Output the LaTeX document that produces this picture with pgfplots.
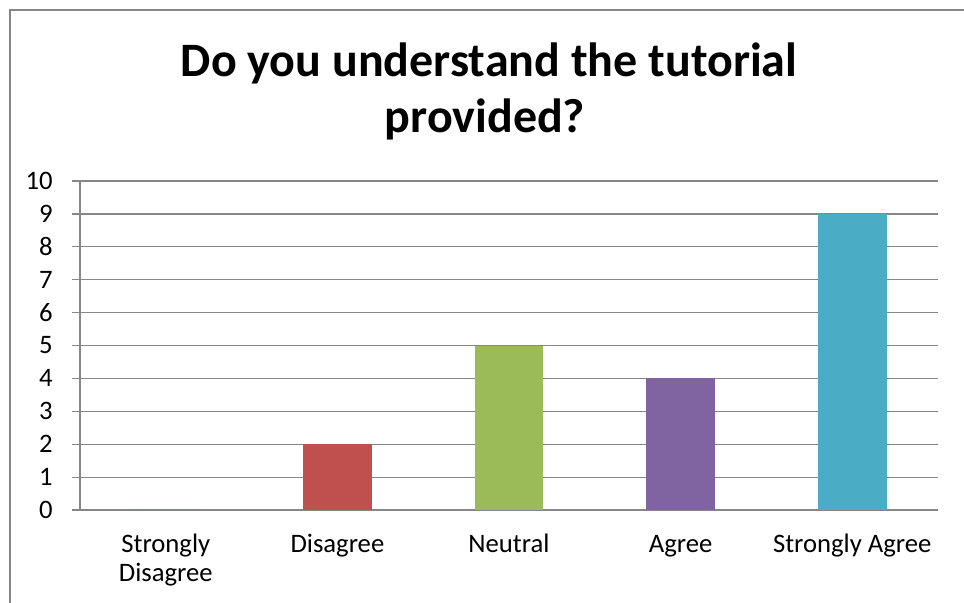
\documentclass[border=0pt]{standalone}
\usepackage{pgfplots}
\pgfplotsset{compat=1.18}
\usepackage{fontspec}
\setmainfont{Carlito}
\definecolor{cRed}{HTML}{C0504D}
\definecolor{cGreen}{HTML}{9BBB59}
\definecolor{cPurple}{HTML}{8064A2}
\definecolor{cTeal}{HTML}{4BACC6}
\definecolor{cBlue}{HTML}{4F81BD}
\definecolor{cGrid}{HTML}{868686}
\begin{document}
\begin{tikzpicture}
\useasboundingbox (0pt,0pt) rectangle (723pt,-452.25pt);
\draw[cGrid, line width=1.2pt] (7.5pt,-460pt) -- (7.5pt,-7.5pt) -- (730pt,-7.5pt);
\node[anchor=base, font=\fontsize{36}{40}\selectfont\bfseries, inner sep=0pt] at (366.75pt,-57pt) {Do you understand the tutorial};
\node[anchor=base, font=\fontsize{36}{40}\selectfont\bfseries, inner sep=0pt] at (363.75pt,-99pt) {provided?};
\begin{axis}[
  at={(60pt,-382.5pt)}, anchor=south west,
  scale only axis, width=643.5pt, height=246.75pt,
  xmin=-0.5, xmax=4.5, ymin=0, ymax=10,
  ytick={0,...,10},
  ymajorgrids, grid style={cGrid, line width=0.9pt},
  axis x line*=bottom, axis y line*=left,
  axis line style={-, cGrid, line width=0.9pt},
  tick style={cGrid, line width=0.9pt},
  tick align=outside,
  major tick length=6pt,
  xtick={0,...,4},
  xticklabels={{\strut Strongly\\Disagree},\strut Disagree,\strut Neutral,\strut Agree,{\strut Strongly Agree}},
  x tick style={draw=none},
  minor xtick={-0.5,0.5,...,4.5},
  minor tick length=6pt,
  xticklabel style={align=center, font=\fontsize{20}{22}\selectfont, yshift=-7pt},
  yticklabel style={font=\fontsize{20}{22}\selectfont, xshift=-11pt},
  /pgf/number format/assume math mode=true,
  bar width=0.4,
  ybar, bar shift=0pt,
  clip=false,
]
\addplot[fill=cBlue, draw=none] coordinates {(0,0)};
\addplot[fill=cRed, draw=none] coordinates {(1,2)};
\addplot[fill=cGreen, draw=none] coordinates {(2,5)};
\addplot[fill=cPurple, draw=none] coordinates {(3,4)};
\addplot[fill=cTeal, draw=none] coordinates {(4,9)};
\end{axis}
\end{tikzpicture}
\end{document}
